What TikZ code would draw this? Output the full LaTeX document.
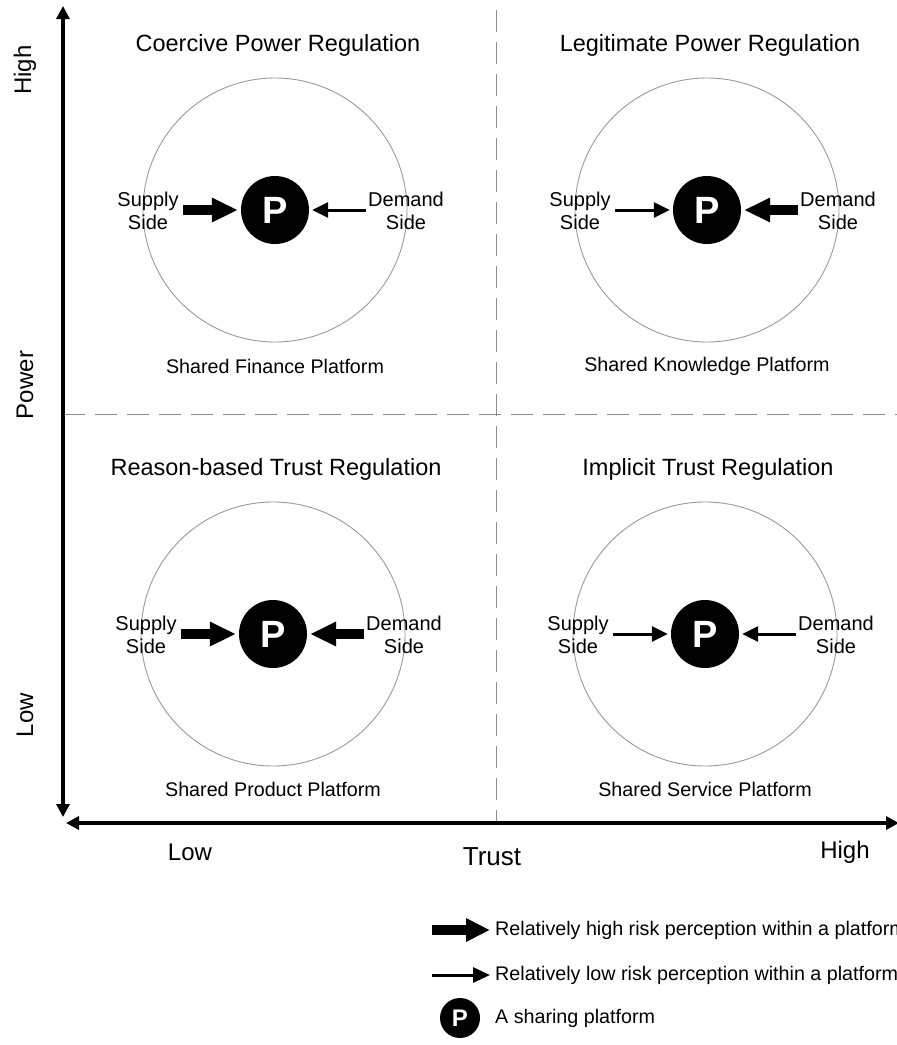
\documentclass[tikz,border=0pt]{standalone}
\usepackage{fontspec}
\setmainfont{Liberation Sans}
\usetikzlibrary{arrows.meta}
\begin{document}
\begin{tikzpicture}[x=1pt,y=-1pt,
  ring/.style={draw=black!40, line width=0.9pt},
  pnode/.style={circle, fill=black, minimum size=68pt, inner sep=0pt, text=white, font=\fontsize{38}{38}\selectfont\bfseries},
  hiarr/.style={line width=10pt, -{Triangle[width=23pt,length=26pt]}, shorten >=3pt},
  loarr/.style={line width=3pt, -{Triangle[width=15pt,length=16pt]}, shorten >=3pt},
  sidelbl/.style={align=center, font=\fontsize{20}{23}\selectfont, inner sep=0pt},
  ttl/.style={font=\fontsize{23.5}{26}\selectfont, inner sep=0pt},
  plat/.style={font=\fontsize{19.7}{22}\selectfont, inner sep=0pt},
  axislbl/.style={font=\fontsize{24}{26}\selectfont, inner sep=0pt},
  axisline/.style={line width=3.5pt, {Triangle[width=13pt,length=13pt]}-{Triangle[width=13pt,length=13pt]}},
  gridline/.style={draw=black!45, line width=0.9pt, dash pattern=on 22pt off 10pt},
  legtxt/.style={font=\fontsize{19.7}{22}\selectfont, inner sep=0pt, anchor=west},
]
\clip (0,0) rectangle (897,1045);

% dashed quadrant lines
\coordinate (vtop) at (496,10);
\coordinate (vbot) at (496,823);
\coordinate (hl) at (63,414);
\coordinate (hr) at (897,414);
\draw[gridline] (vtop) -- (vbot);
\draw[gridline] (hl) -- (hr);

% axes
\coordinate (ytop) at (63,6);
\coordinate (ybot) at (63,817);
\coordinate (xl) at (66,823);
\coordinate (xr) at (899,823);
\draw[axisline] (ybot) -- (ytop);
\draw[axisline] (xl) -- (xr);

% axis labels
\node[axislbl, rotate=90] (ahigh) at (25,70) {High};
\node[axislbl, rotate=90] (apower) at (25,385) {Power};
\node[axislbl, rotate=90] (alow) at (25,715) {Low};
\node[axislbl] (tlow) at (190,852) {Low};
\node[axislbl, font=\fontsize{26}{28}\selectfont] (ttrust) at (492,857) {Trust};
\node[axislbl] (thigh) at (845,852) {High};

% quadrants
\foreach \n/\px/\py/\ty/\ly/\title/\plat/\ss/\ds in {
  a/275/210/45/366/{Coercive Power Regulation}/{Shared Finance Platform}/hiarr/loarr,
  b/707/210/45/366/{Legitimate Power Regulation}/{Shared Knowledge Platform}/loarr/hiarr,
  c/273/634/469/789/{Reason-based Trust Regulation}/{Shared Product Platform}/hiarr/hiarr,
  d/705/634/469/789/{Implicit Trust Regulation}/{Shared Service Platform}/loarr/loarr}{
  \draw[ring] (\px,\py) circle (132);
  \node[ttl] (t\n) at (\px+3,\ty) {\title};
  \node[plat] (l\n) at (\px,\ly) {\plat};
  \node[pnode] (p\n) at (\px,\py) {P};
  \node[sidelbl] (s\n) at (\px-127,\py+1) {Supply\\Side};
  \node[sidelbl] (d\n) at (\px+131,\py+1) {Demand\\Side};
  \coordinate (sa\n) at (\px-92,\py);
  \coordinate (da\n) at (\px+91,\py);
  \draw[\ss] (sa\n) -- (p\n.west);
  \draw[\ds] (da\n) -- (p\n.east);
}

% legend
\coordinate (lh1) at (432,930);
\coordinate (lh2) at (490,930);
\coordinate (ll1) at (432,975);
\coordinate (ll2) at (490,975);
\draw[line width=10pt, -{Triangle[width=22pt,length=24pt]}] (lh1) -- (lh2);
\draw[line width=3pt, -{Triangle[width=15pt,length=17pt]}] (ll1) -- (ll2);
\node[pnode, minimum size=40pt, font=\fontsize{24}{24}\selectfont\bfseries] (lp) at (460,1018) {P};
\node[legtxt] (lt1) at (495,930) {Relatively high risk perception within a platform};
\node[legtxt] (lt2) at (495,975) {Relatively low risk perception within a platform};
\node[legtxt] (lt3) at (495,1018) {A sharing platform};
\end{tikzpicture}
\end{document}
